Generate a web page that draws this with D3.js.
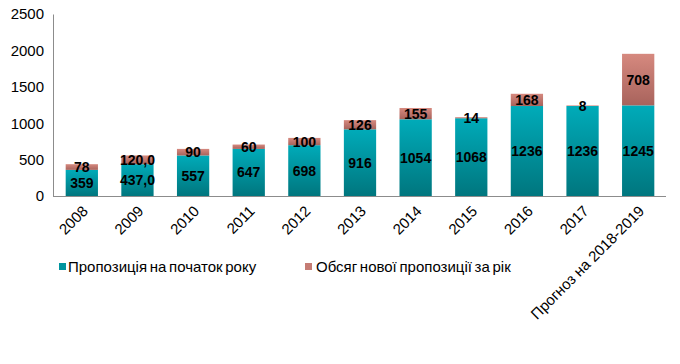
<!DOCTYPE html>
<html><head><meta charset="utf-8">
<script src="https://cdn.jsdelivr.net/npm/d3@7"></script>
<style>body{margin:0;background:#fff}svg{display:block}</style>
</head><body><div id="chart"></div>
<script>
const categories = ["2008","2009","2010","2011","2012","2013","2014","2015","2016","2017","Прогноз на 2018-2019"];
const baseValues = [359,437,557,647,698,916,1054,1068,1236,1236,1245];
const baseLabels = ["359","437,0","557","647","698","916","1054","1068","1236","1236","1245"];
const newValues = [78,120,90,60,100,126,155,14,168,8,708];
const newLabels = ["78","120,0","90","60","100","126","155","14","168","8","708"];
const yTicks = [0,500,1000,1500,2000,2500];
const seriesNames = ["Пропозиція на початок року","Обсяг нової пропозиції за рік"];

const W=680,H=364;
const svg=d3.select("#chart").append("svg").attr("width",W).attr("height",H);
const font="'Liberation Sans', Arial, sans-serif";
const defs=svg.append("defs");
function grad(id,c1,c2){const g=defs.append("linearGradient").attr("id",id).attr("x1",0).attr("y1",0).attr("x2",0).attr("y2",1);
 g.append("stop").attr("offset","0%").attr("stop-color",c1);g.append("stop").attr("offset","100%").attr("stop-color",c2);}
grad("gTeal","#00abb9","#00767e");
grad("gRed","#d6897f","#a8635c");

const x=d3.scaleBand().domain(categories).range([54,666]).paddingInner(0.42).paddingOuter(0.21);
const y=d3.scaleLinear().domain([0,2500]).range([196,14]);

// y axis
const ya=svg.append("g").attr("transform","translate(53,0)")
 .call(d3.axisLeft(y).tickValues(yTicks).tickFormat(d3.format("d")).tickSize(0).tickPadding(9));
ya.select(".domain").attr("stroke","#8c8c8c");
ya.selectAll("text").attr("font-family",font).attr("font-size",15).attr("fill","#000");

// bars
const g=svg.append("g");
categories.forEach((c,i)=>{
  const b=baseValues[i],n=newValues[i];
  g.append("rect").attr("x",x(c)).attr("width",x.bandwidth()).attr("y",y(b)).attr("height",y(0)-y(b)).attr("fill","url(#gTeal)");
  g.append("rect").attr("x",x(c)).attr("width",x.bandwidth()).attr("y",y(b+n)).attr("height",y(b)-y(b+n)).attr("fill","url(#gRed)");
  const cx=x(c)+x.bandwidth()/2;
  g.append("text").attr("x",cx).attr("y",(y(0)+y(b))/2).attr("dy","0.36em").attr("text-anchor","middle")
   .attr("font-family",font).attr("font-weight","bold").attr("font-size",14).text(baseLabels[i]);
  g.append("text").attr("x",cx).attr("y",(y(b)+y(b+n))/2).attr("dy","0.36em").attr("text-anchor","middle")
   .attr("font-family",font).attr("font-weight","bold").attr("font-size",14).text(newLabels[i]);
});

// x axis
const xa=svg.append("g").attr("transform","translate(0,196)")
 .call(d3.axisBottom(x).tickSize(0).tickPadding(0));
xa.select(".domain").attr("stroke","#8c8c8c").attr("d","M53,0.5H666");
xa.selectAll("text").attr("font-family",font).attr("font-size",15).attr("fill","#000")
 .attr("text-anchor","end").attr("dy",0).attr("y",0)
 .attr("transform","translate(7,16) rotate(-45)");

// legend
const lg=svg.append("g");
const lx=[59,305],tx=[68,316];
const cols=["#00959f","#c57c74"];
seriesNames.forEach((s,i)=>{
  lg.append("rect").attr("x",lx[i]).attr("y",263).attr("width",7).attr("height",7).attr("fill",cols[i]);
  lg.append("text").attr("x",tx[i]).attr("y",272).attr("font-family",font).attr("font-size",15).attr("word-spacing",-1.5).text(s);
});
</script></body></html>
